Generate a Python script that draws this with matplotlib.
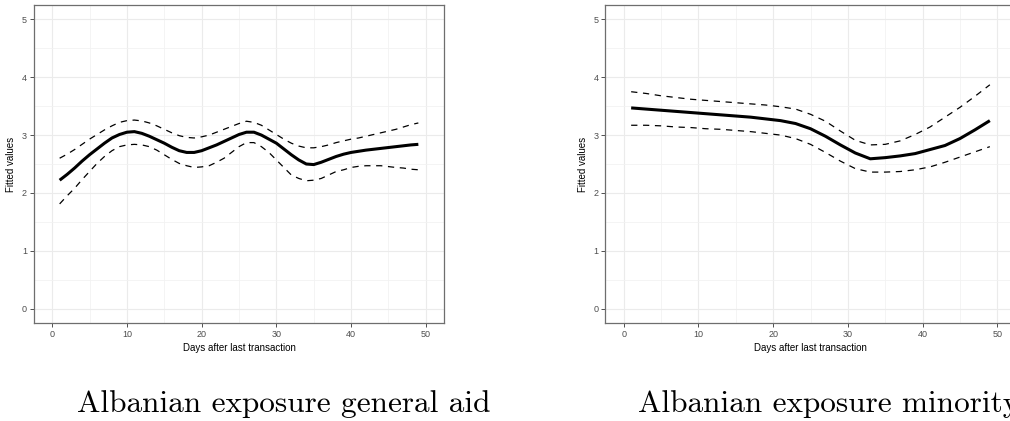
import numpy as np
import matplotlib
matplotlib.use("Agg")
import matplotlib.pyplot as plt
from matplotlib.ticker import MultipleLocator

# left panel: general aid, every day
gen_days = list(range(1, 50))
gen_fit = [2.22, 2.32, 2.43, 2.55, 2.66, 2.76, 2.86, 2.95, 3.01, 3.05,
           3.06, 3.03, 2.98, 2.92, 2.86, 2.79, 2.73, 2.70, 2.70, 2.73,
           2.78, 2.83, 2.89, 2.95, 3.01, 3.05, 3.05, 3.00, 2.93, 2.86,
           2.76, 2.66, 2.57, 2.50, 2.49, 2.53, 2.58, 2.63, 2.67, 2.70,
           2.72, 2.74, 2.755, 2.77, 2.785, 2.80, 2.815, 2.83, 2.84]
gen_hi = [2.60, 2.67, 2.75, 2.84, 2.93, 3.01, 3.09, 3.16, 3.22, 3.25,
          3.26, 3.245, 3.21, 3.16, 3.10, 3.04, 2.99, 2.96, 2.95, 2.97,
          3.00, 3.05, 3.10, 3.15, 3.20, 3.24, 3.22, 3.17, 3.09, 3.01,
          2.93, 2.86, 2.81, 2.78, 2.78, 2.80, 2.83, 2.87, 2.90, 2.93,
          2.95, 2.98, 3.01, 3.04, 3.07, 3.10, 3.14, 3.18, 3.21]
gen_lo = [1.81, 1.95, 2.08, 2.23, 2.37, 2.51, 2.63, 2.73, 2.80, 2.83,
          2.84, 2.83, 2.80, 2.74, 2.66, 2.58, 2.51, 2.47, 2.44, 2.45,
          2.47, 2.53, 2.60, 2.70, 2.80, 2.87, 2.87, 2.80, 2.70, 2.57,
          2.44, 2.31, 2.25, 2.21, 2.22, 2.25, 2.31, 2.37, 2.40, 2.44,
          2.46, 2.47, 2.47, 2.47, 2.455, 2.44, 2.43, 2.41, 2.40]

# right panel: minority, odd days
min_days = [1, 3, 5, 7, 9, 11, 13, 15, 17, 19, 21, 23, 25,
            27, 29, 31, 33, 35, 37, 39, 41, 43, 45, 47, 49]
min_fit = [3.47, 3.45, 3.43, 3.41, 3.39, 3.37, 3.35, 3.33, 3.31, 3.28, 3.25, 3.20, 3.11,
           2.98, 2.83, 2.69, 2.59, 2.61, 2.64, 2.68, 2.75, 2.82, 2.94, 3.09, 3.25]
min_hi = [3.75, 3.72, 3.68, 3.65, 3.62, 3.60, 3.58, 3.56, 3.54, 3.52, 3.49, 3.45, 3.36,
          3.24, 3.07, 2.91, 2.83, 2.84, 2.90, 3.01, 3.14, 3.31, 3.48, 3.67, 3.87]
min_lo = [3.17, 3.17, 3.16, 3.14, 3.13, 3.11, 3.10, 3.08, 3.06, 3.03, 3.00, 2.94, 2.84,
          2.70, 2.55, 2.42, 2.36, 2.36, 2.37, 2.40, 2.45, 2.53, 2.62, 2.71, 2.80]

titles = ["Albanian exposure general aid", "Albanian exposure minority"]

W, H = 1010, 421
fig = plt.figure(figsize=(W / 100, H / 100), dpi=100)

sans = ["Liberation Sans", "DejaVu Sans"]


def panel(left_px, x, fit, hi, lo):
    ax = fig.add_axes([left_px / W, 1 - 323 / H, 411 / W, 318 / H])
    ax.set_xlim(-2.5, 52.5)
    ax.set_ylim(-0.25, 5.25)
    ax.xaxis.set_major_locator(MultipleLocator(10))
    ax.xaxis.set_minor_locator(MultipleLocator(5))
    ax.yaxis.set_major_locator(MultipleLocator(1))
    ax.yaxis.set_minor_locator(MultipleLocator(0.5))
    ax.grid(True, which="major", color="#ebebeb", lw=0.8, zorder=0)
    ax.grid(True, which="minor", color="#f2f2f2", lw=0.6, zorder=0)
    ax.set_axisbelow(True)
    ax.tick_params(which="minor", length=0)
    ax.tick_params(which="major", length=2.8, width=0.6, color="#333333",
                   labelsize=6.5, labelcolor="#4d4d4d", pad=2)
    for lab in ax.get_xticklabels() + ax.get_yticklabels():
        lab.set_family(sans)
    for s in ax.spines.values():
        s.set_color("#6e6e6e")
        s.set_linewidth(0.9)

    ax.plot(x, hi, color="black", lw=0.9, ls=(0, (5, 4.5)))
    ax.plot(x, lo, color="black", lw=0.9, ls=(0, (5, 4.5)))
    ax.plot(x, fit, color="black", lw=2.2, solid_capstyle="butt",
            solid_joinstyle="round")

    ax.set_xlabel("Days after last transaction", fontsize=7, family=sans, labelpad=3)
    ax.set_ylabel("Fitted values", fontsize=7, family=sans, labelpad=4)
    return ax


panel(33.5, gen_days, gen_fit, gen_hi, gen_lo)
panel(605, min_days, min_fit, min_hi, min_lo)

fig.text(77 / W, 1 - 412 / H, titles[0], family="cmr10", fontsize=22.5,
         ha="left", va="baseline")
fig.text(638 / W, 1 - 412 / H, titles[1], family="cmr10", fontsize=22.5,
         ha="left", va="baseline")

fig.savefig("out.png", dpi=100)
